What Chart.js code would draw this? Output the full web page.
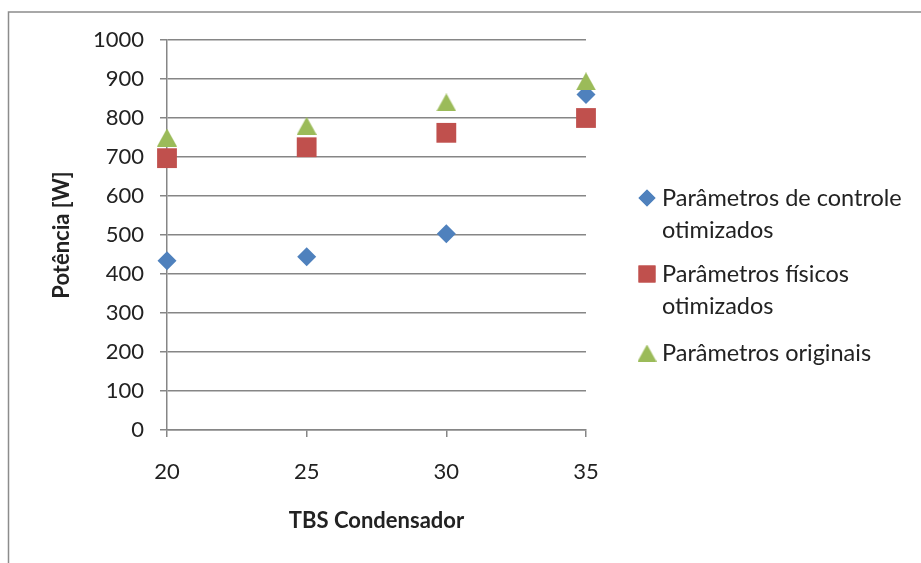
<!DOCTYPE html>
<html>
<head>
<meta charset="utf-8">
<script src="https://cdn.jsdelivr.net/npm/chart.js@4/dist/chart.umd.min.js"></script>
<style>
  html, body { margin: 0; padding: 0; background: #fff; }
  #wrap { width: 921px; height: 563px; position: relative; }
</style>
</head>
<body>
<div id="wrap"><canvas id="c" width="921" height="563"></canvas></div>
<script>
// Condenser dry-bulb temperature (x) and power in W for three parameter sets
const temperaturas = [20, 25, 30, 35];
const controleOtimizado = [434, 444, 503, 860];
const fisicosOtimizado = [697, 725, 762, 800];
const originais = [750, 780, 840, 894];
const nomesSeries = [
  ['Parâmetros de controle', 'otimizados'],
  ['Parâmetros físicos', 'otimizados'],
  ['Parâmetros originais']
];

const FONT = "Lato, 'Open Sans', sans-serif";
const GRID = '#868686';
const TEXTO = '#222222';
const cores = ['#4F81BD', '#C0504D', '#9BBB59'];

// Triangle marker centred on its bounding box
function marcadorTriangulo(w, h, cor) {
  const cv = document.createElement('canvas');
  cv.width = w; cv.height = h;
  const g = cv.getContext('2d');
  g.fillStyle = cor;
  g.beginPath();
  g.moveTo(w / 2, 0);
  g.lineTo(w, h);
  g.lineTo(0, h);
  g.closePath();
  g.fill();
  return cv;
}
const trianguloGrafico = marcadorTriangulo(20, 18, cores[2]);
const trianguloLegenda = marcadorTriangulo(19, 17, cores[2]);

const estilos = ['rectRot', 'rect', trianguloGrafico];
const raios = [9.5, 14, 10];
const ordem = [1, 2, 0]; // originals drawn on top

const pares = (ys) => temperaturas.map((x, i) => ({ x, y: ys[i] }));
const series = [controleOtimizado, fisicosOtimizado, originais];

// Frame (top and left edges) plus a legend with wrapped labels on the right
const molduraLegenda = {
  id: 'molduraLegenda',
  beforeDraw(chart) {
    const ctx = chart.ctx;
    ctx.save();
    ctx.fillStyle = '#fff';
    ctx.fillRect(0, 0, chart.width, chart.height);
    ctx.strokeStyle = '#8c8c8c';
    ctx.lineWidth = 1.5;
    ctx.beginPath();
    ctx.moveTo(chart.width + 2, 12);
    ctx.lineTo(8.5, 12);
    ctx.lineTo(8.5, chart.height + 2);
    ctx.stroke();
    ctx.restore();
  },
  afterDraw(chart) {
    const ctx = chart.ctx;
    const mx = 647, tx = 662;
    const linhaY = [[198, 230], [274, 306], [353]];
    const legEstilos = ['rectRot', 'rect', trianguloLegenda];
    ctx.save();
    ctx.font = '23.5px ' + FONT;
    ctx.textBaseline = 'middle';
    ctx.textAlign = 'left';
    nomesSeries.forEach((linhas, i) => {
      const ys = linhaY[i];
      ctx.fillStyle = cores[i];
      Chart.helpers.drawPoint(ctx, {
        pointStyle: legEstilos[i],
        radius: i === 1 ? 12 : 8.5,
        rotation: 0,
        borderWidth: 0
      }, mx, ys[0]);
      if (i < 2) ctx.fill();
      ctx.fillStyle = TEXTO;
      linhas.forEach((t, k) => ctx.fillText(t, tx, ys[k]));
    });
    ctx.restore();
  }
};

new Chart(document.getElementById('c'), {
  type: 'scatter',
  data: {
    datasets: series.map((ys, i) => ({
      label: nomesSeries[i].join(' '),
      data: pares(ys),
      order: ordem[i],
      pointStyle: estilos[i],
      pointRadius: raios[i],
      pointHoverRadius: raios[i],
      backgroundColor: cores[i],
      borderColor: cores[i],
      borderWidth: 0,
      clip: false
    }))
  },
  options: {
    responsive: false,
    animation: false,
    events: [],
    layout: { padding: { left: 49, right: 335, top: 40, bottom: 29 } },
    plugins: { legend: { display: false }, tooltip: { enabled: false } },
    scales: {
      x: {
        type: 'linear',
        min: 20, max: 35,
        afterFit(s) { s.height = 104; },
        ticks: { stepSize: 5, color: TEXTO, font: { family: FONT, size: 22 }, padding: 22, maxRotation: 0,
                 callback: (v) => String(v) },
        grid: { drawOnChartArea: false, drawTicks: true, tickLength: 7, color: GRID, lineWidth: 1.5 },
        border: { color: GRID, width: 1.5 },
        title: { display: true, text: 'TBS Condensador', color: TEXTO, font: { family: FONT, size: 22, weight: 'bold' }, padding: 0 }
      },
      y: {
        min: 0, max: 1000,
        afterFit(s) { s.width = 118; },
        ticks: { stepSize: 100, color: TEXTO, font: { family: FONT, size: 22 }, padding: 16,
                 callback: (v) => String(v) },
        grid: { drawTicks: true, tickLength: 7, color: GRID, lineWidth: 1.5 },
        border: { color: GRID, width: 1.5 },
        title: { display: true, text: 'Potência [W]', color: TEXTO, font: { family: FONT, size: 22, weight: 'bold' }, padding: 0 }
      }
    }
  },
  plugins: [molduraLegenda]
});
</script>
</body>
</html>
